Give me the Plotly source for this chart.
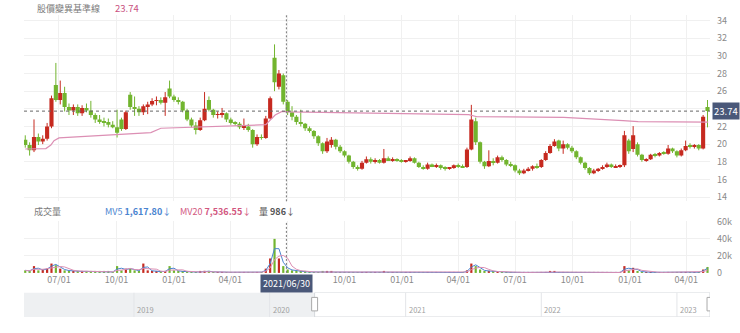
import plotly.graph_objects as go
import pandas as pd

# ---------------- data (weekly candles) ----------------
dates = pd.date_range("2020-05-08", periods=157, freq="7D")

open_ = [20.5,19.9,19.3,20.8,20.3,20.6,22.0,26.7,25.0,25.8,24.2,23.8,24.2,23.5,24.1,23.8,23.3,22.8,22.6,22.5,
         22.2,21.9,22.8,21.7,25.6,24.2,24.0,23.6,24.3,24.5,24.9,25.0,24.7,26.3,25.4,25.0,24.8,23.8,22.8,22.1,
         21.6,22.7,25.0,23.9,23.3,23.4,23.5,22.8,22.4,22.3,21.9,22.0,21.6,20.0,20.8,20.7,22.9,29.8,26.5,27.8,
         24.8,23.6,23.1,22.5,22.3,21.8,21.5,20.9,20.1,19.2,19.9,20.5,19.7,19.2,18.7,18.0,17.4,17.2,17.9,18.3,
         18.0,18.2,17.9,18.4,18.2,18.3,18.1,18.0,18.1,18.4,17.9,17.4,17.2,17.7,17.5,17.6,17.3,17.2,17.3,17.6,
         17.5,17.4,19.4,22.6,20.2,18.0,17.5,18.1,17.9,18.5,18.2,17.7,17.6,17.0,16.7,17.0,17.2,17.5,17.4,18.2,
         19.0,19.8,20.4,19.5,20.0,19.6,19.2,18.5,17.9,17.3,16.7,17.0,17.2,17.4,17.7,17.4,17.5,17.6,20.4,19.45,
         20.0,18.8,18.2,18.3,18.8,18.7,19.0,18.9,19.5,19.2,18.7,19.3,19.8,19.7,19.9,19.5,24.2]
high = [21.0,20.2,22.8,21.2,21.0,22.4,25.5,29.2,27.2,26.5,24.6,24.5,24.5,24.4,24.6,24.9,23.5,23.3,23.0,22.9,
        22.6,23.9,23.0,23.8,25.9,25.4,24.3,24.5,24.8,25.2,25.4,25.3,25.9,27.2,25.6,25.3,24.9,24.0,23.0,22.5,
        23.0,25.9,25.4,24.0,23.7,24.1,23.6,23.0,22.6,22.5,22.9,22.3,21.7,21.1,21.1,23.2,25.4,31.3,28.4,28.0,
        25.0,24.3,23.3,23.9,22.4,22.0,21.6,21.0,20.2,20.7,20.8,20.6,19.9,19.3,18.8,18.1,17.6,18.1,18.6,18.5,
        18.4,18.3,19.45,18.6,18.5,18.4,18.3,18.2,18.6,18.5,18.0,17.6,17.9,17.8,17.8,17.7,17.5,17.4,17.7,17.8,
        17.7,19.6,24.45,23.0,20.3,18.1,19.3,18.4,18.7,18.7,18.3,18.0,17.7,17.2,17.2,17.4,17.6,17.8,18.3,19.2,
        20.0,20.56,20.5,20.4,20.1,19.8,19.3,18.6,18.0,17.4,17.2,17.3,17.6,17.9,17.8,17.7,17.7,21.5,20.6,22.04,
        20.2,18.9,18.4,18.9,19.0,19.1,19.2,19.9,19.6,19.3,19.5,20.4,20.1,20.0,20.0,23.3,25.0]
low = [19.6,18.7,19.1,19.9,20.0,20.4,21.8,24.8,24.5,23.7,23.3,23.3,23.2,23.2,23.6,23.0,22.4,22.3,22.0,21.9,
       21.8,20.75,21.5,21.6,23.9,23.2,23.2,23.3,23.4,24.3,24.4,24.5,23.2,25.2,24.8,24.5,23.6,22.6,21.9,21.1,
       21.5,22.6,23.7,23.0,22.9,23.0,22.5,22.2,22.1,21.7,21.6,21.4,19.6,19.8,20.5,20.6,22.8,26.0,26.2,24.5,
       23.3,22.7,22.2,22.0,21.5,21.3,20.6,19.8,18.9,19.0,19.6,19.4,19.0,18.5,17.8,17.2,17.0,17.1,17.8,17.8,
       17.8,17.8,17.8,18.1,18.0,18.0,17.9,17.9,18.0,17.8,17.3,17.1,17.1,17.4,17.3,17.1,17.0,17.1,17.2,17.3,
       17.3,17.3,19.3,19.9,17.8,17.2,17.4,17.6,17.8,18.0,17.5,17.4,16.8,16.5,16.6,16.9,17.0,17.2,17.3,18.1,
       18.9,19.7,19.2,18.9,19.4,19.0,18.3,17.7,17.1,16.5,16.6,16.85,17.1,17.3,17.3,17.3,17.3,17.4,18.9,19.1,
       18.6,18.0,18.0,18.2,18.5,18.6,18.8,18.8,19.0,18.5,18.6,19.2,19.5,19.5,19.3,19.4,21.9]
close = [19.9,19.3,20.8,20.3,20.6,22.0,25.2,25.0,25.8,24.2,23.8,24.2,23.5,24.1,23.8,23.3,22.8,22.6,22.5,22.2,
         21.9,21.3,21.7,23.6,24.2,24.0,23.6,24.3,24.5,24.9,25.0,24.7,25.3,25.4,25.0,24.8,23.8,22.8,22.1,21.6,
         22.7,24.0,23.9,23.3,23.4,23.5,22.8,22.4,22.3,21.9,22.0,21.6,20.0,20.8,20.7,22.9,25.2,27.0,28.0,24.8,
         23.6,23.1,22.5,22.3,21.8,21.5,20.9,20.1,19.2,20.3,20.5,19.7,19.2,18.7,18.0,17.4,17.2,17.9,18.3,18.0,
         18.2,17.9,18.4,18.2,18.3,18.1,18.0,18.1,18.4,17.9,17.4,17.2,17.7,17.5,17.6,17.3,17.2,17.3,17.6,17.5,
         17.4,19.4,22.8,20.2,18.0,17.5,18.1,17.9,18.5,18.2,17.7,17.6,17.0,16.7,17.0,17.2,17.5,17.4,18.2,19.0,
         19.8,20.3,19.5,20.0,19.6,19.2,18.5,17.9,17.3,16.7,17.0,17.2,17.4,17.7,17.4,17.5,17.6,21.0,19.2,21.0,
         18.8,18.2,18.3,18.8,18.7,19.0,18.9,19.5,19.2,18.7,19.3,19.8,19.7,19.9,19.5,23.1,23.74]
volume_k = [3,2,8,3,4,5,11,9,5,3,2.5,2,1.5,2,1.5,2,1.5,1.2,1.5,1.2,
            1.0,8,3,5,5,3,2,11,3,2,1.5,1.5,2,8,3,2,1.5,1.2,1,1,
            1.2,2.5,1.5,1,0.8,1,0.8,0.7,0.7,0.8,0.6,0.7,1,1,0.8,5,17,40,17,8,
            4,3,2,1.5,1.2,1,1,1,1.2,1.5,1.2,0.8,0.8,0.7,0.8,1,0.8,0.8,1,0.7,
            0.6,0.6,1.5,0.8,0.6,0.5,0.5,0.5,0.7,0.6,0.6,0.5,0.6,0.5,0.5,0.5,0.5,0.4,0.5,0.5,
            0.5,3,11,8,4,2,2.5,1.2,1,0.8,0.7,0.6,0.7,0.6,0.5,0.5,0.5,0.5,0.8,1,
            1.2,1.2,0.8,0.8,0.6,0.6,0.6,0.6,0.6,0.7,0.5,0.5,0.5,0.5,0.5,0.5,0.6,8,3,6,
            2,1,0.8,0.8,0.6,0.6,0.6,1,0.7,0.7,0.8,1,0.7,0.7,0.8,4,7]
volume = [v * 1000 for v in volume_k]

base_dates = ["2020-05-08", "2020-06-10", "2020-06-18", "2020-06-23", "2020-07-01", "2020-09-06",
              "2020-11-25", "2020-12-11", "2021-05-28", "2021-06-12", "2021-06-23", "2021-07-04",
              "2022-02-13", "2022-04-18", "2022-05-01", "2022-09-17", "2022-12-21", "2023-01-14",
              "2023-05-06"]
base_vals = [19.45, 19.5, 19.9, 20.4, 20.7, 21.0, 21.3, 21.8, 22.2, 23.3, 23.7, 23.65,
             23.4, 23.34, 23.1, 23.04, 22.67, 22.56, 22.5]

last_price = 23.74
cross_date = "2021-06-30"
tick_dates = ["2020-07-01", "2020-10-01", "2021-01-01", "2021-04-01", "2021-07-01", "2021-10-01",
              "2022-01-01", "2022-04-01", "2022-07-01", "2022-10-01", "2023-01-01", "2023-04-01"]
tick_text = ["07/01", "10/01", "01/01", "04/01", "", "10/01",
             "01/01", "04/01", "07/01", "10/01", "01/01", "04/01"]
price_ticks = [14, 16, 18, 20, 22, 24, 26, 28, 30, 32, 34]
price_tick_text = ["14", "16", "18", "20", "22", "", "26", "28", "30", "32", "34"]
vol_ticks = [0, 20000, 40000, 60000]
vol_tick_text = ["0", "20k", "40k", "60k"]
nav_years = ["2019", "2020", "2021", "2022", "2023"]

# ---------------- styling ----------------
RED = "#c62a20"
GREEN = "#72b52f"
PINK = "#dc8fb4"
BLUE = "#4a84d0"
GRID = "#f0f0f0"
TXT = "#8a8a8a"
TAG = "#4a5879"
FONT = "Noto Sans CJK TC, Noto Sans, sans-serif"
DAY_MS = 86400000

fig = go.Figure()

# candles drawn as wick lines + body bars
for up, col in [(True, RED), (False, GREEN)]:
    xs, base, hgt, wx, wy = [], [], [], [], []
    for d, o, h, l, c in zip(dates, open_, high, low, close):
        if (c >= o) != up:
            continue
        xs.append(d)
        base.append(min(o, c))
        hgt.append(max(abs(c - o), 0.06))
        wx += [d, d, None]
        wy += [l, h, None]
    fig.add_trace(go.Scatter(x=wx, y=wy, mode="lines", line=dict(color=col, width=1),
                             showlegend=False, hoverinfo="skip", xaxis="x", yaxis="y"))
    fig.add_trace(go.Bar(x=xs, y=hgt, base=base, width=6.6 * DAY_MS,
                         marker=dict(color=col, line=dict(width=0)),
                         showlegend=False, hoverinfo="skip", xaxis="x", yaxis="y"))

fig.add_trace(go.Scatter(x=base_dates, y=base_vals, mode="lines",
                         line=dict(color=PINK, width=1.2), showlegend=False,
                         hoverinfo="skip", xaxis="x", yaxis="y"))

vol_colors = [RED if c >= o else GREEN for o, c in zip(open_, close)]
fig.add_trace(go.Bar(x=dates, y=volume, width=3.5 * DAY_MS,
                     marker=dict(color=vol_colors, line=dict(width=0)),
                     showlegend=False, hoverinfo="skip", xaxis="x2", yaxis="y2"))
vs = pd.Series(volume)
mv5 = vs.rolling(2, min_periods=1).mean()
mv20 = vs.rolling(4, min_periods=1).mean()
fig.add_trace(go.Scatter(x=dates, y=mv5, mode="lines", line=dict(color=BLUE, width=1),
                         showlegend=False, hoverinfo="skip", xaxis="x2", yaxis="y2"))
fig.add_trace(go.Scatter(x=dates, y=mv20, mode="lines", line=dict(color=PINK, width=1),
                         showlegend=False, hoverinfo="skip", xaxis="x2", yaxis="y2"))
# navigator placeholder trace
fig.add_trace(go.Scatter(x=["2018-03-11"], y=[-1], mode="markers", marker=dict(opacity=0),
                         showlegend=False, hoverinfo="skip", xaxis="x3", yaxis="y3"))

P_DOM = [0.3871, 1.0]
V_DOM = [0.1516, 0.3226]
N_DOM = [0.0065, 0.0871]
X_RANGE = ["2020-05-06", "2023-05-09"]
NAV_RANGE = ["2018-03-11", "2023-03-31"]
NAV_SEL = "2020-05-01"

fig.update_layout(
    width=740, height=333, margin=dict(l=24, r=30, t=15, b=8),
    paper_bgcolor="white", plot_bgcolor="white",
    font=dict(family=FONT, size=10, color=TXT),
    barmode="overlay",
    xaxis=dict(domain=[0, 1], anchor="y", type="date", range=X_RANGE,
               tickvals=tick_dates, showticklabels=False, showgrid=True, gridcolor=GRID,
               zeroline=False, showline=False, ticks=""),
    yaxis=dict(domain=P_DOM, anchor="x", side="right", range=[13.52, 34.63],
               tickvals=price_ticks, ticktext=price_tick_text, showgrid=True, gridcolor=GRID,
               zeroline=False, tickfont=dict(size=9, color=TXT), ticks="", ticklabelstandoff=6),
    xaxis2=dict(domain=[0, 1], anchor="y2", type="date", range=X_RANGE,
                tickvals=tick_dates, ticktext=tick_text, showgrid=True, gridcolor=GRID,
                zeroline=False, showline=False, ticks="", tickfont=dict(size=9, color=TXT)),
    yaxis2=dict(domain=V_DOM, anchor="x2", side="right", range=[0, 61100],
                tickvals=vol_ticks, ticktext=vol_tick_text, showgrid=True, gridcolor=GRID,
                zeroline=False, tickfont=dict(size=9, color=TXT), ticks="", ticklabelstandoff=6),
    xaxis3=dict(domain=[0, 1], anchor="y3", type="date", range=NAV_RANGE, visible=False),
    yaxis3=dict(domain=N_DOM, anchor="x3", range=[0, 1], visible=False),
)

shapes = []
shapes.append(dict(type="line", xref="paper", yref="y", x0=0, x1=1, y0=last_price, y1=last_price,
                   line=dict(color="#666", width=1, dash="3px,3px")))
shapes.append(dict(type="line", xref="x", yref="paper", x0=cross_date, x1=cross_date,
                   y0=P_DOM[0], y1=P_DOM[1], line=dict(color="#777", width=1, dash="2px,2px")))
shapes.append(dict(type="line", xref="x", yref="paper", x0=cross_date, x1=cross_date,
                   y0=V_DOM[0], y1=V_DOM[1], line=dict(color="#777", width=1, dash="2px,2px")))
# navigator
shapes.append(dict(type="rect", xref="x3", yref="y3", x0=NAV_RANGE[0], x1=NAV_SEL, y0=0, y1=1,
                   fillcolor="#eef0f2", line=dict(width=0), layer="below"))
shapes.append(dict(type="rect", xref="x3", yref="y3", x0=NAV_SEL, x1=NAV_RANGE[1], y0=0, y1=1,
                   fillcolor="rgba(0,0,0,0)", line=dict(color="#d5d8dc", width=1)))
for yr in nav_years:
    shapes.append(dict(type="line", xref="x3", yref="y3", x0=yr + "-01-01", x1=yr + "-01-01",
                       y0=0, y1=1, line=dict(color="#e3e5e8", width=1)))
for hx in [NAV_SEL, NAV_RANGE[1]]:
    shapes.append(dict(type="rect", xref="x3", yref="y3",
                       x0=pd.Timestamp(hx) - pd.Timedelta(days=8), x1=pd.Timestamp(hx) + pd.Timedelta(days=8),
                       y0=0.25, y1=0.8, fillcolor="white", line=dict(color="#aaa", width=1)))

ann = []
ann.append(dict(xref="paper", yref="paper", x=0.016, y=1.0226, xanchor="left", yanchor="middle",
                text="股價變異基準線", showarrow=False, font=dict(size=9, color="#7a7a7a")))
ann.append(dict(xref="paper", yref="paper", x=0.1297, y=1.0226, xanchor="left", yanchor="middle",
                text=f"{last_price:.2f}", showarrow=False, font=dict(size=9.5, color="#c9517f")))
ann.append(dict(xref="paper", yref="y", x=1.003, y=last_price, xanchor="left", yanchor="middle",
                text=f"{last_price:.2f}", showarrow=False, bgcolor=TAG, borderpad=1,
                font=dict(size=9.5, color="white")))
ann.append(dict(xref="x2", yref="paper", x=cross_date, y=V_DOM[0], xanchor="center", yanchor="top",
                yshift=-1, text="2021/06/30", showarrow=False, bgcolor=TAG, borderpad=2,
                font=dict(size=9, color="white")))
leg_y = 0.3548
ann.append(dict(xref="paper", yref="paper", x=0.0117, y=leg_y, xanchor="left", yanchor="middle",
                text="成交量", showarrow=False, font=dict(size=9, color="#7a7a7a")))
ann.append(dict(xref="paper", yref="paper", x=0.1152, y=leg_y, xanchor="left", yanchor="middle",
                text="MV5 <b>1,617.80</b>↓", showarrow=False, font=dict(size=9, color=BLUE)))
ann.append(dict(xref="paper", yref="paper", x=0.2245, y=leg_y, xanchor="left", yanchor="middle",
                text="MV20 <b>7,536.55</b>↓", showarrow=False, font=dict(size=9, color="#d2577f")))
ann.append(dict(xref="paper", yref="paper", x=0.3397, y=leg_y, xanchor="left", yanchor="middle",
                text="量 <b>986</b>↓", showarrow=False, font=dict(size=9, color="#555")))
for yr in nav_years:
    ann.append(dict(xref="x3", yref="y3", x=yr + "-01-01", y=0.3, xanchor="left", yanchor="middle",
                    xshift=1, text=yr, showarrow=False, font=dict(size=7.5, color="#a0a0a0")))

fig.update_layout(shapes=shapes, annotations=ann)
fig.write_html("out.html")
